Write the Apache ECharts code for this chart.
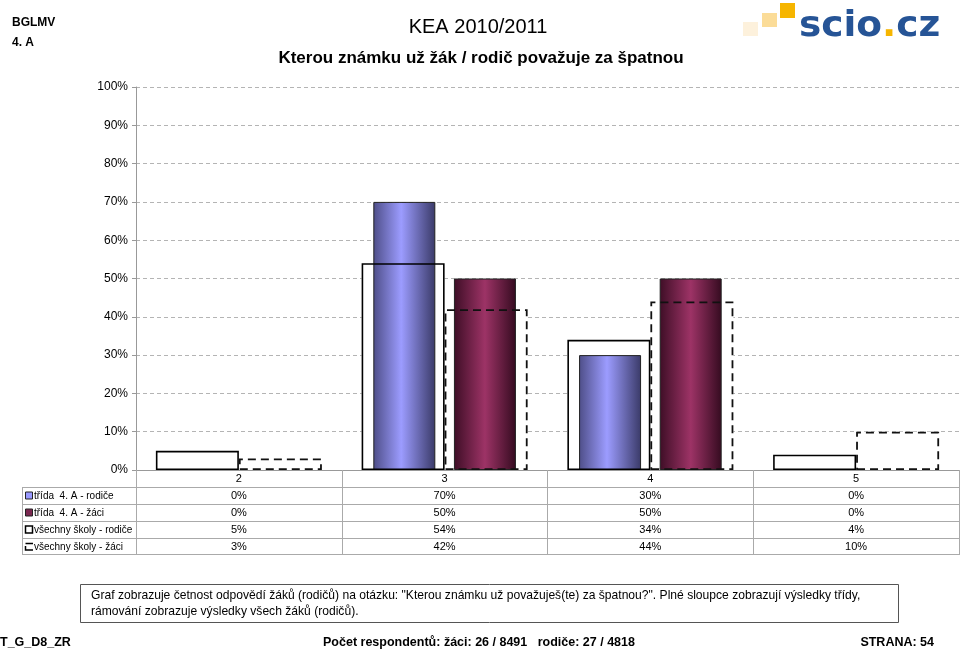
<!DOCTYPE html>
<html><head><meta charset="utf-8">
<script src="https://cdn.jsdelivr.net/npm/echarts@6/dist/echarts.min.js"></script>
<style>html,body{margin:0;padding:0;background:#fff}#c{width:960px;height:651px}</style>
</head><body><div id="c"></div>
<script>
// ---- data ----
const categories = ['2', '3', '4', '5'];
const seriesNames = ['třída  4. A - rodiče', 'třída  4. A - žáci', 'všechny školy - rodiče', 'všechny školy - žáci'];
const classParents = [0, 70, 30, 0];
const classStudents = [0, 50, 50, 0];
const allParents = [5, 54, 34, 4];
const allStudents = [3, 42, 44, 10];
const tableRows = [classParents, classStudents, allParents, allStudents];

const F = "'Liberation Sans', Arial, sans-serif";
const chart = echarts.init(document.getElementById('c'), null, {renderer: 'canvas'});

const blueGrad = new echarts.graphic.LinearGradient(0, 0, 1, 0, [
  {offset: 0, color: '#4e4e88'}, {offset: 0.45, color: '#9c9cff'}, {offset: 1, color: '#3a3a68'}]);
const redGrad = new echarts.graphic.LinearGradient(0, 0, 1, 0, [
  {offset: 0, color: '#3e0e26'}, {offset: 0.5, color: '#9d3366'}, {offset: 1, color: '#350b20'}]);

function solid(arr) {
  return arr.map(v => v === 0 ? {value: v, itemStyle: {borderWidth: 0, opacity: 0}} : v);
}

const gridTop = 87, gridBottomY = 470;
const rowCenters = [496, 513, 530, 547];

const xAxes = [
  { // main category axis (labels + table vertical lines)
    type: 'category', data: categories, gridIndex: 0, position: 'bottom',
    axisLine: {lineStyle: {color: '#999', width: 1}},
    axisTick: {show: true, length: 85, lineStyle: {color: '#aaa'}},
    axisLabel: {margin: 3, fontFamily: F, fontSize: 11, color: '#000'},
    splitLine: {show: false}
  },
  {type: 'category', data: categories, show: false},
  {type: 'category', data: categories, show: false}
];
tableRows.forEach((row, r) => {
  xAxes.push({
    type: 'category', data: categories, position: 'bottom',
    offset: rowCenters[r] - 476,
    axisLine: {show: false}, axisTick: {show: false}, splitLine: {show: false},
    axisLabel: {margin: 0, fontFamily: F, fontSize: 11, color: '#000', lineHeight: 12,
      formatter: (v, i) => row[i] + '%'}
  });
});

const legendIcons = [
  {type: 'rect', shape: {x: 25.5, y: rowCenters[0] - 4, width: 7, height: 7}, style: {fill: '#9999ff', stroke: '#222', lineWidth: 1}},
  {type: 'rect', shape: {x: 25.5, y: rowCenters[1] - 4, width: 7, height: 7}, style: {fill: '#7a2850', stroke: '#222', lineWidth: 1}},
  {type: 'rect', shape: {x: 25.5, y: rowCenters[2] - 4, width: 7, height: 7}, style: {fill: '#fff', stroke: '#000', lineWidth: 1.5}},
  {type: 'polyline', shape: {points: [[33, rowCenters[3] - 3.5], [25.5, rowCenters[3] - 3.5]]}, style: {stroke: '#000', lineWidth: 1.5, fill: null}},
  {type: 'polyline', shape: {points: [[25.5, rowCenters[3] - 1], [25.5, rowCenters[3] + 3], [33, rowCenters[3] + 3]]}, style: {stroke: '#000', lineWidth: 1.5, fill: null}}
];

const graphics = [
  {type: 'text', left: 12, top: 17, style: {text: 'BGLMV', font: 'bold 12px ' + F, fill: '#000'}},
  {type: 'text', left: 12, top: 37, style: {text: '4. A', font: 'bold 12px ' + F, fill: '#000'}},
  {type: 'text', x: 478, y: 27, style: {text: 'KEA 2010/2011', font: '20px ' + F, fill: '#000', align: 'center', verticalAlign: 'middle'}},
  {type: 'text', x: 481, y: 58, style: {text: 'Kterou známku už žák / rodič považuje za špatnou', font: 'bold 17px ' + F, fill: '#000', align: 'center', verticalAlign: 'middle'}},
  // logo
  {type: 'rect', shape: {x: 743, y: 22, width: 15, height: 14}, style: {fill: '#fdf1dc'}},
  {type: 'rect', shape: {x: 762, y: 13, width: 15, height: 14}, style: {fill: '#fbdc98'}},
  {type: 'rect', shape: {x: 780, y: 3, width: 15, height: 15}, style: {fill: '#f6b500'}},
  {type: 'text', x: 799, y: 27, scaleX: 1.07, style: {rich: {
      a: {font: 'bold 35px "DejaVu Sans", sans-serif', fill: '#265496'},
      d: {font: 'bold 35px "DejaVu Sans", sans-serif', fill: '#f6b500'}},
    text: '{a|scio}{d|.}{a|cz}', verticalAlign: 'middle'}},
  // table lines
  {type: 'line', shape: {x1: 22, y1: 487.5, x2: 960, y2: 487.5}, style: {stroke: '#aaa', lineWidth: 1}},
  {type: 'line', shape: {x1: 22, y1: 504.5, x2: 960, y2: 504.5}, style: {stroke: '#aaa', lineWidth: 1}},
  {type: 'line', shape: {x1: 22, y1: 521.5, x2: 960, y2: 521.5}, style: {stroke: '#aaa', lineWidth: 1}},
  {type: 'line', shape: {x1: 22, y1: 538.5, x2: 960, y2: 538.5}, style: {stroke: '#aaa', lineWidth: 1}},
  {type: 'line', shape: {x1: 22, y1: 554.5, x2: 960, y2: 554.5}, style: {stroke: '#aaa', lineWidth: 1}},
  {type: 'line', shape: {x1: 22.5, y1: 487.5, x2: 22.5, y2: 554.5}, style: {stroke: '#aaa', lineWidth: 1}},
  ...legendIcons,
  ...seriesNames.map((n, i) => ({type: 'text', x: 34, y: rowCenters[i],
    style: {text: n, font: '10px ' + F, fill: '#000', verticalAlign: 'middle'}})),
  // description box
  {type: 'rect', shape: {x: 80.5, y: 584.5, width: 818, height: 38}, style: {fill: '#fff', stroke: '#555', lineWidth: 1}},
  {type: 'text', x: 91, y: 596, style: {text: 'Graf zobrazuje četnost odpovědí žáků (rodičů) na otázku: "Kterou známku už považuješ(te) za špatnou?". Plné sloupce zobrazují výsledky třídy,', font: '12.1px ' + F, fill: '#000', verticalAlign: 'middle'}},
  {type: 'text', x: 91, y: 612, style: {text: 'rámování zobrazuje výsledky všech žáků (rodičů).', font: '12.1px ' + F, fill: '#000', verticalAlign: 'middle'}},
  // footer
  {type: 'text', x: 0, y: 643, style: {text: 'T_G_D8_ZR', font: 'bold 12.5px ' + F, fill: '#000', verticalAlign: 'middle'}},
  {type: 'text', x: 479, y: 643, style: {text: 'Počet respondentů: žáci: 26 / 8491   rodiče: 27 / 4818', font: 'bold 12.5px ' + F, fill: '#000', align: 'center', verticalAlign: 'middle'}},
  {type: 'text', x: 934, y: 643, style: {text: 'STRANA: 54', font: 'bold 12.5px ' + F, fill: '#000', align: 'right', verticalAlign: 'middle'}}
];

chart.setOption({
  animation: false,
  backgroundColor: '#fff',
  grid: {left: 136, right: 1, top: gridTop, bottom: 651 - gridBottomY, containLabel: false},
  xAxis: xAxes,
  yAxis: {
    type: 'value', min: 0, max: 100, interval: 10,
    axisLine: {show: true, lineStyle: {color: '#999'}},
    axisTick: {show: true, length: 4, lineStyle: {color: '#999'}},
    axisLabel: {formatter: '{value}%', fontFamily: F, fontSize: 12, color: '#000', margin: 8},
    splitLine: {show: true, lineStyle: {color: '#b4b4b4', type: [4, 3], width: 1}}
  },
  series: [
    // white fills of the all-schools frames
    {name: seriesNames[2] + ' fill', type: 'bar', xAxisIndex: 0, data: allParents, barWidth: 83, barGap: '0%', z: 2,
      itemStyle: {color: '#fff', borderWidth: 0}, silent: true},
    {name: seriesNames[3] + ' fill', type: 'bar', xAxisIndex: 0, data: allStudents, barWidth: 83, barGap: '0%', z: 2,
      itemStyle: {color: '#fff', borderWidth: 0}, silent: true},
    // class solid bars
    {name: seriesNames[0], type: 'bar', xAxisIndex: 1, data: solid(classParents), barWidth: 62, barGap: '30%', z: 3,
      itemStyle: {color: blueGrad, borderColor: '#222', borderWidth: 1}},
    {name: seriesNames[1], type: 'bar', xAxisIndex: 1, data: solid(classStudents), barWidth: 62, barGap: '30%', z: 3,
      itemStyle: {color: redGrad, borderColor: '#222', borderWidth: 1}},
    // frames on top
    {name: seriesNames[2], type: 'bar', xAxisIndex: 2, data: allParents, barWidth: 83, barGap: '0%', z: 4,
      itemStyle: {color: 'rgba(0,0,0,0)', borderColor: '#000', borderWidth: 1.6}},
    {name: seriesNames[3], type: 'bar', xAxisIndex: 2, data: allStudents, barWidth: 83, barGap: '0%', z: 4,
      itemStyle: {color: 'rgba(0,0,0,0)', borderColor: '#111', borderWidth: 1.8, borderType: [8, 5]}}
  ],
  graphic: graphics
});
</script>
</body></html>
